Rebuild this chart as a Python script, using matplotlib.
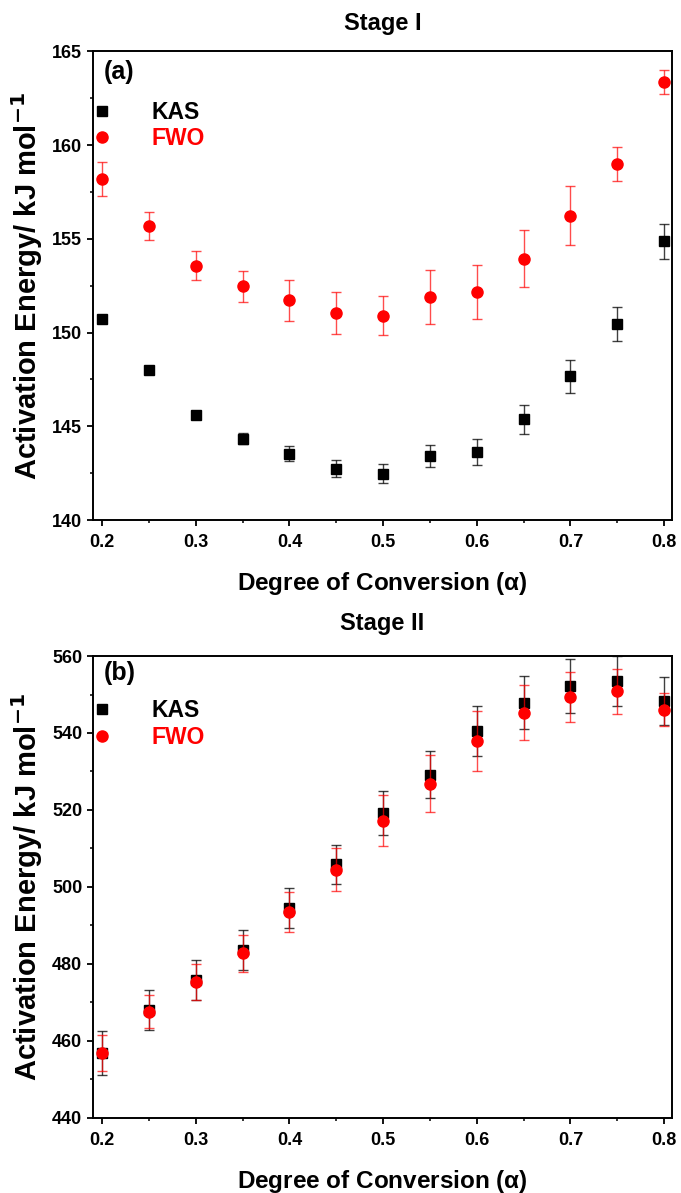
import numpy as np
import matplotlib
matplotlib.use('Agg')
import matplotlib.pyplot as plt
from matplotlib.ticker import MultipleLocator
from matplotlib.lines import Line2D

plt.rcParams['font.family'] = ['Liberation Sans', 'DejaVu Sans']
plt.rcParams['font.weight'] = 'bold'
plt.rcParams['mathtext.default'] = 'regular'

alpha = [0.2, 0.25, 0.3, 0.35, 0.4, 0.45, 0.5, 0.55, 0.6, 0.65, 0.7, 0.75, 0.8]

# stage I
kas_1 = [150.70, 147.98, 145.63, 144.35, 143.53, 142.75, 142.47, 143.43, 143.64, 145.37, 147.66, 150.46, 154.87]
kas_1_err = [0.12, 0.12, 0.2, 0.31, 0.40, 0.47, 0.51, 0.57, 0.70, 0.76, 0.90, 0.93, 0.92]
fwo_1 = [158.19, 155.67, 153.56, 152.47, 151.73, 151.07, 150.91, 151.90, 152.17, 153.95, 156.24, 159.01, 163.35]
fwo_1_err = [0.91, 0.75, 0.78, 0.83, 1.09, 1.12, 1.05, 1.45, 1.46, 1.50, 1.58, 0.90, 0.65]

# stage II
kas_2 = [456.8, 468.0, 475.9, 483.6, 494.5, 505.9, 519.1, 529.2, 540.5, 547.9, 552.2, 553.5, 548.3]
kas_2_err = [5.7, 5.3, 5.2, 5.2, 5.3, 5.1, 5.7, 6.1, 6.6, 6.9, 6.9, 6.6, 6.3]
fwo_2 = [456.8, 467.6, 475.3, 482.8, 493.5, 504.5, 517.2, 526.8, 537.9, 545.3, 549.3, 550.8, 546.1]
fwo_2_err = [4.6, 4.3, 4.7, 4.8, 5.1, 5.7, 6.7, 7.4, 7.7, 7.2, 6.5, 5.8, 4.2]


def draw_panel(ax, kas, kas_err, fwo, fwo_err, title, tag, ylim, major, minor,
               title_pad, tag_y, leg_y):
    ax.errorbar(alpha, kas, yerr=kas_err, fmt='s', color='black', ms=7,
                ecolor=(0, 0, 0, 0.75), elinewidth=1.0, capsize=3.5, capthick=1.0,
                zorder=3)
    ax.errorbar(alpha, fwo, yerr=fwo_err, fmt='o', color='red', ms=8,
                ecolor=(1, 0, 0, 0.7), elinewidth=1.0, capsize=3.5, capthick=1.0,
                zorder=4)
    ax.set_xlim(0.19, 0.8085)
    ax.set_ylim(*ylim)
    ax.xaxis.set_major_locator(MultipleLocator(0.1))
    ax.xaxis.set_minor_locator(MultipleLocator(0.05))
    ax.yaxis.set_major_locator(MultipleLocator(major))
    ax.yaxis.set_minor_locator(MultipleLocator(minor))
    ax.tick_params(which='major', direction='out', length=4, width=1.3, labelsize=13)
    ax.tick_params(axis='x', which='major', pad=6)
    ax.tick_params(which='minor', direction='out', length=2.5, width=1.1)
    for s in ax.spines.values():
        s.set_linewidth(1.4)
    for lab in ax.get_xticklabels() + ax.get_yticklabels():
        lab.set_fontweight('bold')
    ax.set_xlabel('Degree of Conversion ($\\alpha$)', fontsize=17.5, fontweight='bold', labelpad=14)
    ax.set_ylabel('Activation Energy/ kJ mol$^{\\mathbf{-1}}$', fontsize=21,
                  fontweight='bold', labelpad=5)
    ax.set_title(title, fontsize=17, fontweight='bold', pad=title_pad)
    ax.text(0.02, tag_y, tag, transform=ax.transAxes, fontsize=18, fontweight='bold',
            va='center', ha='left')
    handles = [Line2D([], [], ls='', marker='s', color='black', ms=7),
               Line2D([], [], ls='', marker='o', color='red', ms=8)]
    leg = ax.legend(handles, ['KAS', 'FWO'], loc='upper left', bbox_to_anchor=(-0.003, leg_y),
                    frameon=False, fontsize=16.5, handlelength=1.0, handletextpad=1.65,
                    labelspacing=0.15, borderaxespad=0, borderpad=0)
    for txt, c in zip(leg.get_texts(), ['black', 'red']):
        txt.set_color(c)
        txt.set_fontweight('bold')


fig = plt.figure(figsize=(6.81, 11.93), dpi=100)
ax1 = fig.add_axes([0.136, 0.564, 0.851, 0.393])
ax2 = fig.add_axes([0.136, 0.0631, 0.851, 0.387])

draw_panel(ax1, kas_1, kas_1_err, fwo_1, fwo_1_err, 'Stage I', '(a)', (140, 165), 5, 2.5,
           15, 0.955, 0.894)
draw_panel(ax2, kas_2, kas_2_err, fwo_2, fwo_2_err, 'Stage II', '(b)', (440, 560), 20, 10,
           19, 0.964, 0.906)

fig.savefig('out.png', dpi=100)
